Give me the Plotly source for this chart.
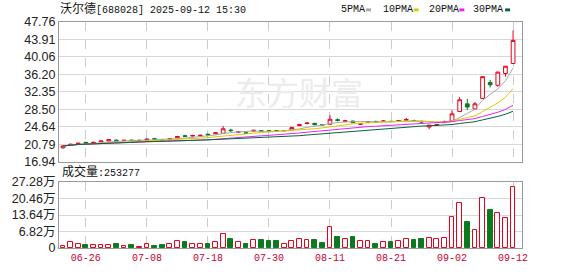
import plotly.graph_objects as go
import pandas as pd

# ---------------- data ----------------
dates = ["06-23","06-24","06-25","06-26","06-27","06-30","07-01","07-02","07-03","07-04",
         "07-07","07-08","07-09","07-10","07-11","07-14","07-15","07-16","07-17","07-18",
         "07-21","07-22","07-23","07-24","07-25","07-28","07-29","07-30","07-31","08-01",
         "08-04","08-05","08-06","08-07","08-08","08-11","08-12","08-13","08-14","08-15",
         "08-18","08-19","08-20","08-21","08-22","08-25","08-26","08-27","08-28","08-29",
         "09-01","09-02","09-03","09-04","09-05","09-08","09-09","09-10","09-11","09-12"]

open_ = [20.0,20.5,20.8,21.2,21.0,21.3,21.5,21.7,21.6,21.7,
         21.6,21.7,22.0,21.85,21.8,22.2,22.65,22.6,22.65,23.0,
         23.1,23.2,23.9,23.45,23.3,23.7,23.75,23.75,23.75,23.75,
         23.9,24.9,25.35,25.4,25.15,25.2,26.2,25.85,25.9,25.2,
         25.6,25.8,25.85,25.85,25.9,26.1,26.0,25.8,24.6,25.0,
         25.6,25.9,28.0,29.7,28.6,30.9,34.4,33.8,36.4,38.6]
high = [20.6,20.9,21.1,21.3,21.3,21.6,21.9,21.8,21.8,21.8,
        21.7,22.0,22.2,21.9,22.1,22.6,22.9,22.9,22.9,23.1,
        23.4,24.8,24.2,23.7,23.4,24.0,23.9,23.8,23.8,23.9,
        24.6,25.2,25.7,25.5,25.2,27.2,26.5,26.2,26.0,25.4,
        25.9,26.0,26.1,25.9,26.1,26.6,26.2,26.0,25.0,25.2,
        26.0,28.3,31.2,30.8,30.1,35.8,35.0,36.8,38.1,45.9]
low = [19.8,20.4,20.7,20.9,20.9,21.2,21.4,21.5,21.5,21.5,
       21.5,21.6,21.8,21.7,21.7,22.1,22.4,22.5,22.5,22.7,
       23.0,23.1,23.5,23.3,23.1,23.6,23.5,23.6,23.6,23.7,
       23.8,24.8,25.2,25.0,24.95,25.1,25.8,25.7,25.5,25.1,
       25.5,25.5,25.7,25.7,25.8,26.0,25.7,25.5,24.1,24.9,
       25.5,25.8,27.9,28.3,28.5,30.8,33.3,33.5,35.7,38.5]
close = [20.4,20.8,21.0,21.0,21.2,21.5,21.8,21.6,21.65,21.6,
         21.65,21.9,21.9,21.75,22.0,22.5,22.55,22.7,22.75,22.85,
         23.3,24.2,23.8,23.55,23.2,23.85,23.7,23.7,23.7,23.8,
         24.5,25.1,25.45,25.1,25.05,26.3,26.05,25.95,25.55,25.3,
         25.8,25.75,25.9,25.8,26.0,26.25,25.9,25.7,25.0,25.1,
         25.75,27.5,30.6,29.0,29.7,35.7,33.9,36.7,38.0,43.7]
volume = [9300,23000,16000,13000,13000,13000,13000,16000,8000,12000,
          6000,16000,8000,13000,16000,27000,24000,18000,16000,16000,
          23000,59000,36000,23000,18000,33000,32000,27000,27000,18000,
          29000,38000,32000,32000,20000,87000,45000,36000,44000,29000,
          29000,15000,23000,23000,27000,38000,32000,39000,41000,38000,
          41000,128000,187000,107000,75000,207000,156000,143000,123000,253277]

price_ticks = [16.94, 20.79, 24.64, 28.50, 32.35, 36.20, 40.06, 43.91, 47.76]
price_tick_text = ["16.94", "20.79", "24.64", "28.50", "32.35", "36.20", "40.06", "43.91", "47.76"]
vol_ticks = [0, 68200, 136400, 204600, 272800]
vol_tick_text = ["0", "6.82万", "13.64万", "20.46万", "27.28万"]
label_dates = ["06-26", "07-08", "07-18", "07-30", "08-11", "08-21", "09-02", "09-12"]
ma_periods = [5, 10, 20, 30]
ma_names = ["5PMA", "10PMA", "20PMA", "30PMA"]
ma_colors = ["#a8a8a8", "#e0c800", "#ee22ee", "#00663a"]

# ---------------- styling ----------------
UP = "#e5001b"
DOWN = "#0b7a1e"
W, H = 578, 276
ML, MR, MT, MB = 56, 56, 22, 21
PW, PH = W - ML - MR, H - MT - MB

def px_x(px):
    return (px - ML) / PW

def px_y(py):
    return (H - MB - py) / PH

x = list(range(len(dates)))
tickvals = [dates.index(d) for d in label_dates]
xr = [-0.52, len(dates) - 1 + 1.17]

fig = go.Figure()

fig.add_trace(go.Candlestick(
    x=x, open=open_, high=high, low=low, close=close,
    increasing=dict(line=dict(color=UP, width=1), fillcolor="white"),
    decreasing=dict(line=dict(color=DOWN, width=1), fillcolor=DOWN),
    whiskerwidth=0, xaxis="x", yaxis="y", hoverinfo="skip"))

cs = pd.Series(close)
for n, c in zip(ma_periods, ma_colors):
    fig.add_trace(go.Scatter(x=x, y=cs.rolling(n, min_periods=1).mean(),
                             mode="lines", line=dict(color=c, width=1),
                             xaxis="x", yaxis="y", hoverinfo="skip"))

up = [c >= o for o, c in zip(open_, close)]
fig.add_trace(go.Bar(
    x=x, y=volume, width=0.62,
    marker=dict(color=["white" if u else DOWN for u in up],
                line=dict(color=[UP if u else DOWN for u in up], width=1)),
    xaxis="x2", yaxis="y2", hoverinfo="skip"))

axis_common = dict(showline=True, linecolor="#999999", linewidth=1, mirror=True,
                   zeroline=False, ticks="")
tick_font = dict(family="Liberation Sans, Arial, Noto Sans CJK SC", size=12.5, color="#222222")

fig.update_layout(
    width=W, height=H,
    margin=dict(l=ML, r=MR, t=MT, b=MB),
    paper_bgcolor="white", plot_bgcolor="white",
    showlegend=False, bargap=0,
    xaxis=dict(domain=[0, 1], range=xr, anchor="y", tickvals=tickvals,
               showticklabels=False, showgrid=True, gridcolor="#cccccc",
               griddash="dash", rangeslider=dict(visible=False), **axis_common),
    yaxis=dict(domain=[px_y(166), 1], range=[price_ticks[0], price_ticks[-1]],
               tickvals=price_ticks, ticktext=price_tick_text, tickfont=tick_font,
               showgrid=True, gridcolor="#d8d8d8", **axis_common),
    xaxis2=dict(domain=[0, 1], range=xr, anchor="y2", tickvals=tickvals,
                ticktext=label_dates, showgrid=True, gridcolor="#cccccc", griddash="dash",
                tickfont=dict(family="Liberation Mono, DejaVu Sans Mono", size=10, color="#cc0033"),
                **axis_common),
    yaxis2=dict(domain=[0, px_y(187)], range=[vol_ticks[0], vol_ticks[-1]],
                tickvals=vol_ticks, ticktext=vol_tick_text, tickfont=tick_font,
                showgrid=True, gridcolor="#d8d8d8", **axis_common),
)

mono = "Liberation Mono, DejaVu Sans Mono, Noto Sans CJK SC"
annotations = [
    dict(text="东方财富", x=px_x(298), y=px_y(93), font=dict(family="Noto Sans CJK SC", size=32, color="#ececec"),
         showarrow=False, xanchor="center", yanchor="middle"),
    dict(text="<span style='font-size:12px'>沃尔德</span>[688028] 2025-09-12 15:30",
         x=px_x(55), y=px_y(9), font=dict(family=mono, size=10, color="#111111"),
         showarrow=False, xanchor="left", yanchor="middle"),
    dict(text="<span style='font-size:12px'>成交量</span>:%d" % volume[-1],
         x=px_x(57), y=px_y(177), font=dict(family=mono, size=10, color="#111111"),
         showarrow=False, xanchor="left", yanchor="middle"),
]
legend_x = [338, 380, 426, 471]
marker_x = [365, 413, 459, 505]
shapes = []
for name, c, lx, mx in zip(ma_names, ma_colors, legend_x, marker_x):
    annotations.append(dict(text=name, x=px_x(lx), y=px_y(9), xref="paper", yref="paper",
                            font=dict(family=mono, size=10, color="#111111"),
                            showarrow=False, xanchor="left", yanchor="middle"))
    shapes.append(dict(type="rect", xref="paper", yref="paper",
                       x0=px_x(mx), x1=px_x(mx + 5), y0=px_y(11), y1=px_y(8),
                       fillcolor=c, line=dict(width=0)))
for a in annotations:
    a.setdefault("xref", "paper")
    a.setdefault("yref", "paper")
fig.update_layout(annotations=annotations, shapes=shapes)

fig.write_html("out.html")
